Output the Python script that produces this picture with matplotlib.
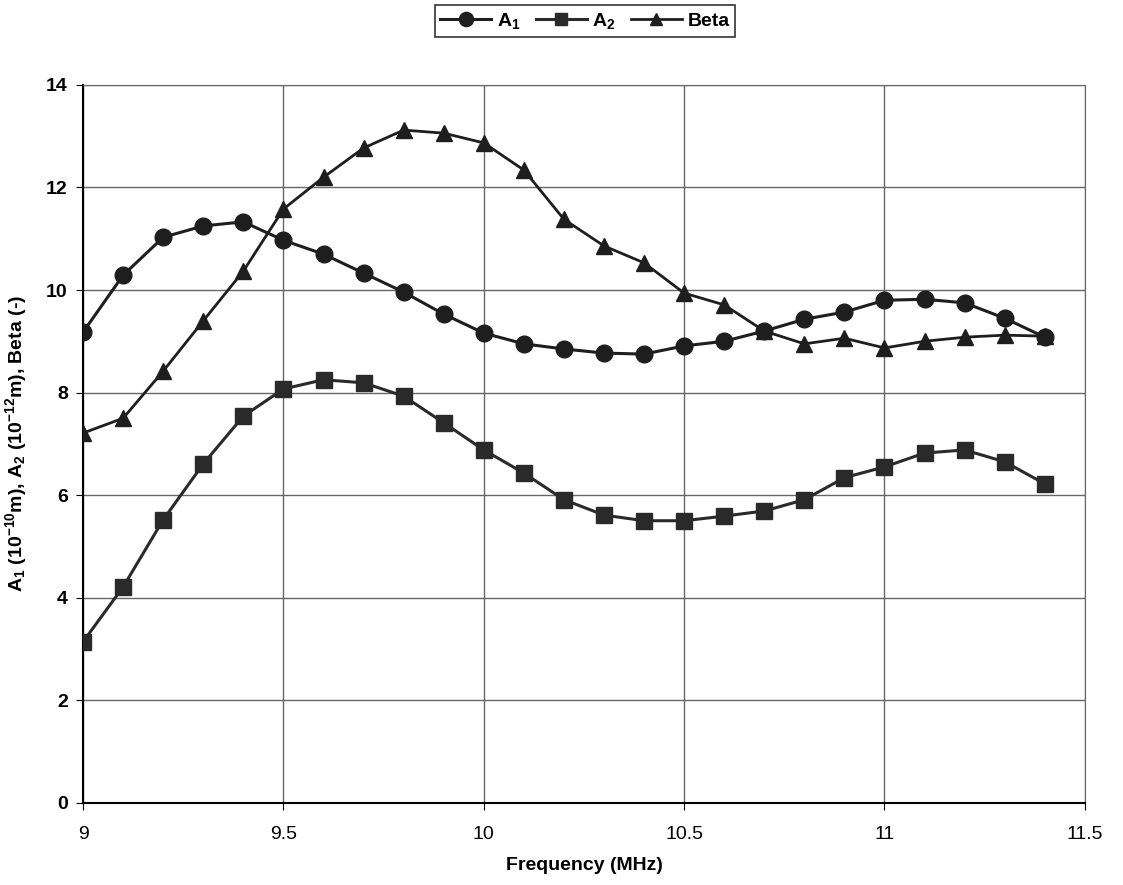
import numpy as np
import matplotlib.pyplot as plt

plt.rcParams['font.family'] = ['Liberation Sans', 'DejaVu Sans']
plt.rcParams['mathtext.default'] = 'regular'

freq = [9.0, 9.1, 9.2, 9.3, 9.4, 9.5, 9.6, 9.7, 9.8, 9.9, 10.0, 10.1, 10.2,
        10.3, 10.4, 10.5, 10.6, 10.7, 10.8, 10.9, 11.0, 11.1, 11.2, 11.3, 11.4]
a1 = [9.18, 10.29, 11.03, 11.25, 11.33, 10.97, 10.70, 10.33, 9.96, 9.53, 9.16,
      8.95, 8.85, 8.77, 8.75, 8.91, 9.00, 9.20, 9.43, 9.57, 9.80, 9.82, 9.75,
      9.45, 9.08]
a2 = [3.14, 4.21, 5.52, 6.61, 7.54, 8.07, 8.25, 8.19, 7.93, 7.41, 6.88, 6.43,
      5.91, 5.61, 5.50, 5.50, 5.59, 5.69, 5.91, 6.34, 6.55, 6.82, 6.88, 6.65,
      6.22]
beta = [7.21, 7.50, 8.42, 9.40, 10.37, 11.58, 12.20, 12.77, 13.12, 13.06,
        12.87, 12.34, 11.38, 10.86, 10.53, 9.94, 9.71, 9.20, 8.95, 9.06, 8.87,
        9.00, 9.08, 9.12, 9.10]

xticks = [9, 9.5, 10, 10.5, 11, 11.5]
xticklabels = ['9', '9.5', '10', '10.5', '11', '11.5']
yticks = [0, 2, 4, 6, 8, 10, 12, 14]

fig = plt.figure(figsize=(11.23, 8.85), dpi=100)
ax = fig.add_axes([0.074, 0.093, 0.892, 0.811])

ax.plot(freq, a1, color='#1e1e1e', linewidth=2.2, marker='o', markersize=12,
        label='A$_1$', zorder=3)
ax.plot(freq, a2, color='#2a2a2a', linewidth=2.2, marker='s', markersize=11,
        label='A$_2$', zorder=3)
ax.plot(freq, beta, color='#1e1e1e', linewidth=2.0, marker='^', markersize=11,
        label='Beta', zorder=3)

ax.set_xlim(9, 11.5)
ax.set_ylim(0, 14)
ax.set_xticks(xticks)
ax.set_xticklabels(xticklabels)
ax.set_yticks(yticks)
ax.grid(True, color='#666666', linewidth=1.0)
ax.set_axisbelow(True)

for side in ['top', 'right']:
    ax.spines[side].set_color('#666666')
for side in ['left', 'bottom']:
    ax.spines[side].set_color('black')
    ax.spines[side].set_linewidth(1.5)

ax.tick_params(axis='x', labelsize=14, length=5, pad=12)
ax.tick_params(axis='y', labelsize=14, length=5, pad=6)
for lab in ax.get_yticklabels():
    lab.set_fontweight('bold')

ax.set_xlabel('Frequency (MHz)', fontsize=14, fontweight='bold', labelpad=10)
ax.set_ylabel('A$_1$ (10$^{-10}$m), A$_2$ (10$^{-12}$m), Beta (-)',
              fontsize=14, fontweight='bold', labelpad=12)

leg = fig.legend(loc='center', bbox_to_anchor=(0.521, 0.976), ncol=3,
                 fontsize=14, frameon=True, fancybox=False, edgecolor='black',
                 handlelength=2.6, columnspacing=0.8, handletextpad=0.3,
                 borderpad=0.3, markerscale=0.85)
leg.get_frame().set_linewidth(1.2)
for t in leg.get_texts():
    t.set_fontweight('bold')

fig.savefig('out.png', dpi=100, facecolor='white')
